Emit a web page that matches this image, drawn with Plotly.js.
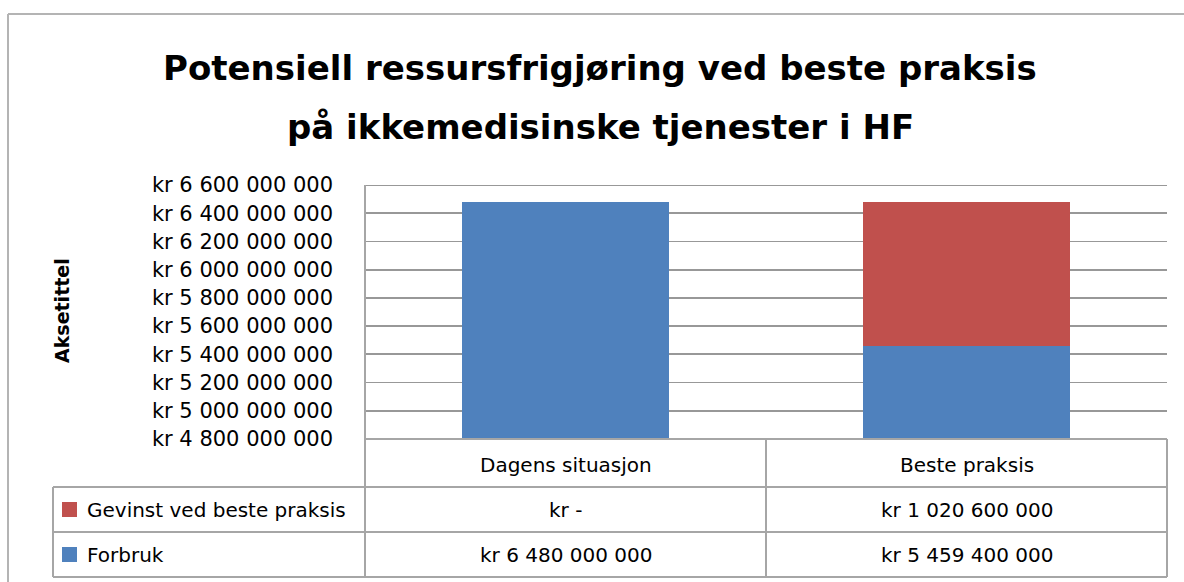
<!DOCTYPE html>
<html>
<head>
<meta charset="utf-8">
<script src="https://cdn.plot.ly/plotly-3.0.1.min.js"></script>
<style>html,body{margin:0;padding:0;background:#fff;}#chart{width:1184px;height:582px;}</style>
</head>
<body>
<div id="chart"></div>
<script>
// ---- data ----
const categories = ["Dagens situasjon", "Beste praksis"];
const seriesNames = ["Forbruk", "Gevinst ved beste praksis"];
const forbruk = [6480000000, 5459400000];
const gevinst = [0, 1020600000];
const titleLines = ["Potensiell ressursfrigjøring ved beste praksis", "på ikkemedisinske tjenester i HF"];
const yAxisTitle = "Aksetittel";
const yRange = [4800000000, 6600000000];
const yStep = 200000000;
const colors = ["#4F81BD", "#C0504D"];

// ---- layout geometry (pixels) ----
const W = 1184, H = 582;
const L = 365, R = 1167, T = 185, B = 439;
const px = x => (x - L) / (R - L);
const py = y => (B - y) / (B - T);

function fmtKr(v) {
  if (!v) return "kr -";
  return "kr " + String(v).replace(/\B(?=(\d{3})+(?!\d))/g, " ");
}

const FONT = "DejaVu Sans";
const lineCol = "#A6A6A6";
const gridCol = "#989898";

const traces = [
  {type: "bar", x: categories, y: forbruk, name: seriesNames[0], marker: {color: colors[0]}, width: 0.515, hoverinfo: "skip"},
  {type: "bar", x: categories, y: gevinst, name: seriesNames[1], marker: {color: colors[1]}, width: 0.515, hoverinfo: "skip"}
];

const shapes = [];
function hline(x0, x1, y, col, w) {
  shapes.push({type: "line", xref: "paper", yref: "paper", x0: px(x0), x1: px(x1), y0: py(y), y1: py(y), line: {color: col, width: w}});
}
function vline(x, y0, y1, col, w) {
  shapes.push({type: "line", xref: "paper", yref: "paper", x0: px(x), x1: px(x), y0: py(y0), y1: py(y1), line: {color: col, width: w}});
}
// outer chart frame
hline(8, 1184, 14, "#B4B4B4", 2);
vline(8, 14, 582, "#B4B4B4", 2);
// top gridline of plot area
shapes.push({type: "line", xref: "paper", yref: "y", x0: 0, x1: 1, y0: yRange[1], y1: yRange[1], line: {color: gridCol, width: 1.8}});
// data table
const colX = [L, (L + R) / 2, R];
const rowY = [B, 487, 532, 577];
hline(L, R, rowY[0], lineCol, 2);
hline(53, R, rowY[1], lineCol, 2);
hline(53, R, rowY[2], lineCol, 2);
hline(53, R, rowY[3], lineCol, 2);
vline(L, T, rowY[3], lineCol, 2);
vline(colX[1], rowY[0], rowY[3], lineCol, 2);
vline(R, rowY[0], rowY[3], lineCol, 2);
vline(53, rowY[1], rowY[3], lineCol, 2);

const annotations = [];
function txt(x, y, text, opts) {
  annotations.push(Object.assign({xref: "paper", yref: "paper", x: px(x), y: py(y), text: text, showarrow: false,
    xanchor: "center", yanchor: "middle", font: {family: FONT, size: 20, color: "#000"}}, opts || {}));
}
// title
txt(600, 68, titleLines[0], {font: {family: FONT, size: 34, color: "#000", weight: "bold"}});
txt(600, 127, titleLines[1], {font: {family: FONT, size: 34, color: "#000", weight: "bold"}});
// y axis title
txt(62, 311, yAxisTitle, {textangle: -90, font: {family: FONT, size: 19, color: "#000", weight: "bold"}});
// table header (categories)
categories.forEach((c, i) => txt((colX[i] + colX[i + 1]) / 2, 465, c));
// table rows: series in reverse order (top row = last series)
const rows = [{name: seriesNames[1], vals: gevinst, col: colors[1]}, {name: seriesNames[0], vals: forbruk, col: colors[0]}];
rows.forEach((r, j) => {
  const yc = (rowY[j + 1] + rowY[j + 2]) / 2;
  shapes.push({type: "rect", xref: "paper", yref: "paper", x0: px(62), x1: px(77), y0: py(yc - 7.5), y1: py(yc + 7.5), fillcolor: r.col, line: {width: 0}});
  txt(85, yc, r.name, {xanchor: "left"});
  r.vals.forEach((v, i) => txt((colX[i] + colX[i + 1]) / 2, yc, fmtKr(v)));
});

const layout = {
  width: W, height: H,
  margin: {l: L, r: W - R, t: T, b: H - B, pad: 0},
  paper_bgcolor: "#fff", plot_bgcolor: "#fff",
  barmode: "stack",
  showlegend: false,
  separators: ", ",
  xaxis: {showticklabels: false, ticks: "", showgrid: false, zeroline: false, showline: false, fixedrange: true},
  yaxis: {range: yRange, dtick: yStep, tick0: 0, tickformat: ",d", tickprefix: "kr ",
          showgrid: true, gridcolor: gridCol, gridwidth: 1.8, zeroline: false, showline: false, ticks: "", ticklen: 0,
          ticklabelstandoff: 31,
          tickfont: {family: FONT, size: 21, color: "#000"}, automargin: false, fixedrange: true},
  shapes: shapes,
  annotations: annotations
};
Plotly.newPlot("chart", traces, layout, {staticPlot: true, displayModeBar: false});
</script>
</body>
</html>
